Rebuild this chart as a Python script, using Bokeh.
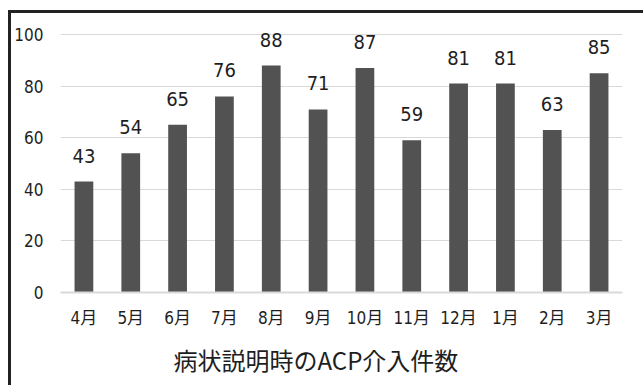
from bokeh.plotting import figure
from bokeh.models import ColumnDataSource, FactorRange, Title, FixedTicker, Range1d, InlineStyleSheet
from bokeh.core.properties import value
from bokeh.embed import file_html
from bokeh.resources import INLINE

months = ["4月", "5月", "6月", "7月", "8月", "9月", "10月", "11月", "12月", "1月", "2月", "3月"]
counts = [43, 54, 65, 76, 88, 71, 87, 59, 81, 81, 63, 85]
y_ticks = [0, 20, 40, 60, 80, 100]
title_text = "病状説明時のACP介入件数"

NUM_FONT = "'Liberation Sans Narrow', 'DejaVu Sans Condensed', 'Noto Sans CJK JP', sans-serif"
CJK_FONT = "'Noto Sans CJK JP', sans-serif"
BAR = "#525252"
TXT = "#1e1e1e"
GRID = "#d9d9d9"

src = ColumnDataSource(dict(month=months, count=counts, label=[str(c) for c in counts]))

border_css = InlineStyleSheet(css="""
:host::after {
  content: "";
  position: absolute;
  left: 8px;
  top: 10px;
  width: 635px;
  height: 375px;
  border-left: 3px solid #222222;
  border-top: 3px solid #222222;
  box-sizing: border-box;
  pointer-events: none;
  z-index: 10;
}
""")

p = figure(width=643, height=385, x_range=FactorRange(*months, range_padding=0),
           y_range=Range1d(0, 107.4), output_backend="svg", toolbar_location=None,
           min_border_left=60, min_border_right=21, min_border_top=15, min_border_bottom=93,
           stylesheets=[border_css])
p.outline_line_color = None
p.background_fill_color = "white"
p.border_fill_color = "white"

p.vbar(x="month", top="count", width=0.4, source=src, fill_color=BAR, line_color=None)
p.text(x="month", y="count", text="label", source=src, text_align="center",
       text_baseline="middle", y_offset=-26, text_font=value(NUM_FONT),
       text_font_size="20px", text_color=TXT)

p.xgrid.grid_line_color = None
p.ygrid.grid_line_color = GRID
p.ygrid.grid_line_width = 1
p.yaxis.ticker = FixedTicker(ticks=y_ticks)
p.yaxis.axis_line_color = None
p.yaxis.major_tick_line_color = None
p.yaxis.minor_tick_line_color = None
p.yaxis.major_tick_out = 0
p.yaxis.major_tick_in = 0
p.yaxis.major_label_standoff = 17
p.yaxis.major_label_text_font = NUM_FONT
p.yaxis.major_label_text_font_size = "17px"
p.yaxis.major_label_text_color = TXT

p.xaxis.axis_line_color = GRID
p.xaxis.axis_line_width = 2
p.xaxis.major_tick_line_color = None
p.xaxis.minor_tick_line_color = None
p.xaxis.major_tick_out = 0
p.xaxis.major_tick_in = 0
p.xaxis.major_label_standoff = 15
p.xaxis.major_label_text_font = NUM_FONT
p.xaxis.major_label_text_font_size = "17px"
p.xaxis.major_label_text_color = TXT

p.add_layout(Title(text=title_text, align="left", offset=113, standoff=18,
                   text_font=CJK_FONT, text_font_size="24px", text_font_style="normal",
                   text_color=TXT), "below")

open("out.html", "w").write(file_html(p, INLINE))
